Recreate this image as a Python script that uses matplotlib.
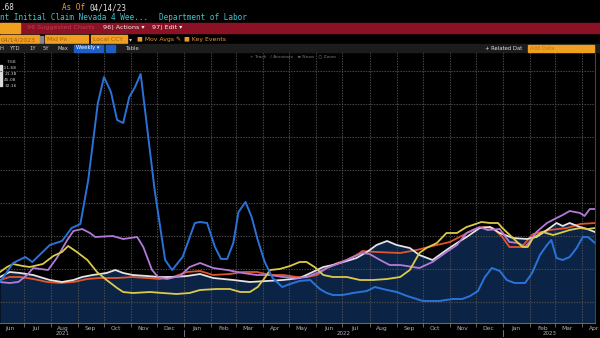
import numpy as np
import pandas as pd
import matplotlib
matplotlib.use("Agg")
import matplotlib.pyplot as plt
import matplotlib.dates as mdates
from matplotlib.patches import Rectangle

# series: day offsets from 2021-06-04, value in chart units
start = pd.Timestamp("2021-06-04")

blue_days = [0, 15, 29, 37, 57, 71, 82, 92, 101, 112, 119, 127, 134, 141, 148, 154, 161, 177, 189, 197,
             209, 223, 229, 237, 246, 253, 260, 267, 273, 281, 288, 295, 303, 312, 323, 332, 343, 355,
             366, 374, 381, 392, 404, 420, 429, 443, 454, 466, 484, 503, 518, 529, 538, 547, 555, 563,
             572, 580, 589, 601, 609, 618, 626, 631, 637, 644, 652, 660, 667, 673, 681]
blue_vals = [41, 60, 66, 61, 78, 82, 95, 99, 143, 220, 246, 231, 203, 200, 226, 235, 249, 133, 63, 53,
             66, 100, 101, 100, 76, 64, 64, 80, 111, 121, 106, 83, 61, 45, 36, 39, 42, 43,
             34, 30, 28, 28, 30, 32, 36, 33, 31, 27, 22, 22, 24, 24, 27, 32, 46, 55,
             52, 43, 40, 40, 50, 68, 78, 83, 65, 63, 66, 75, 86, 86, 80]

white_days = [0, 11, 23, 38, 57, 71, 84, 94, 106, 122, 132, 141, 152, 168, 183, 198, 214, 229, 244, 267,
              286, 305, 324, 343, 358, 370, 381, 397, 408, 420, 431, 443, 454, 469, 480, 495, 511, 523,
              534, 549, 561, 572, 587, 603, 614, 626, 637, 644, 652, 664, 672, 681]
white_vals = [46, 51, 50, 48, 43, 41, 43, 46, 48, 50, 53, 50, 48, 47, 46, 46, 47, 49, 45, 43,
              41, 42, 43, 45, 51, 56, 58, 62, 65, 71, 78, 82, 78, 75, 68, 63, 73, 80,
              86, 95, 96, 90, 85, 84, 86, 93, 100, 97, 100, 96, 94, 91]

orange_days = [0, 11, 23, 38, 54, 69, 84, 100, 114, 134, 152, 168, 183, 198, 214, 229, 244, 263, 278, 294,
               309, 324, 340, 351, 363, 374, 386, 397, 408, 415, 431, 458, 477, 495, 515, 526, 541, 553,
               564, 575, 583, 597, 610, 629, 649, 664, 681]
orange_vals = [43, 46, 46, 44, 41, 40, 41, 44, 45, 45, 46, 45, 44, 46, 51, 52, 48, 49, 51, 51,
               48, 48, 46, 46, 48, 55, 60, 63, 68, 72, 71, 70, 73, 77, 81, 86, 93, 96,
               95, 86, 76, 76, 89, 93, 95, 99, 100]

purple_days = [0, 11, 21, 31, 38, 55, 65, 77, 84, 94, 103, 109, 129, 141, 157, 164, 174, 181, 191, 206,
               217, 229, 244, 260, 278, 294, 309, 324, 340, 351, 363, 374, 389, 404, 415, 423, 435, 446,
               458, 480, 495, 511, 523, 534, 549, 558, 572, 583, 593, 601, 606, 614, 626, 637, 644, 652,
               664, 669, 675, 681]
purple_vals = [41, 40, 41, 48, 55, 53, 65, 83, 92, 94, 90, 86, 87, 84, 86, 76, 53, 46, 44, 47,
               56, 60, 55, 53, 50, 48, 48, 46, 45, 46, 50, 55, 60, 66, 70, 69, 63, 58,
               58, 55, 61, 71, 78, 90, 96, 93, 94, 81, 80, 76, 81, 91, 100, 105, 108, 112,
               110, 107, 114, 114]

yellow_days = [0, 8, 15, 26, 34, 49, 61, 71, 78, 88, 100, 111, 122, 134, 141, 152, 172, 186, 202, 217,
               229, 248, 263, 275, 286, 295, 303, 309, 320, 332, 343, 351, 360, 370, 381, 397, 412, 427,
               443, 458, 469, 480, 488, 500, 511, 523, 534, 541, 551, 561, 570, 575, 587, 598, 604, 610,
               621, 633, 641, 652, 664, 673, 681]
yellow_vals = [51, 56, 59, 57, 56, 59, 67, 71, 77, 71, 63, 51, 43, 35, 31, 30, 31, 30, 29, 30,
               33, 34, 34, 31, 31, 36, 45, 53, 54, 57, 61, 61, 56, 48, 46, 46, 43, 43,
               44, 46, 53, 70, 75, 80, 90, 90, 96, 98, 101, 100, 100, 95, 85, 76, 76, 85,
               91, 88, 90, 93, 95, 94, 95]

legend_vals = ["7.68", "-11.68", "21.38", "45.08", "32.16"]
year_labels = ["2021", "2022", "2023"]
year_label_dates = ["2021-08-15", "2022-07-02", "2023-02-23"]
year_breaks = ["2022-01-01", "2023-01-01"]

W, H = 600, 338
fig = plt.figure(figsize=(6, 3.38), dpi=100, facecolor="black")


def box(x0, y0, x1, y1, color):
    fig.patches.append(Rectangle((x0 / W, 1 - y1 / H), (x1 - x0) / W, (y1 - y0) / H,
                                 transform=fig.transFigure, color=color, zorder=0))


def txt(x, y, s, color, size=5, family="DejaVu Sans", **kw):
    fig.text(x / W, 1 - y / H, s, color=color, fontsize=size, family=family,
             va="center", ha="left", **kw)


# header rows
mono = "DejaVu Sans Mono"
txt(0, 8, ".68", "#e6e6e6", 5.5, mono)
txt(62, 8, "As Of", "#f0a030", 5.5, mono)
txt(89, 8, "04/14/23", "#e6e6e6", 5.5, mono)
txt(0, 18, "nt Initial Claim Nevada 4 Wee...", "#3fc4d0", 5.5, mono)
txt(159, 18, "Department of Labor", "#3fc4d0", 5.5, mono)

box(0, 23, W, 33, "#8a1224")
box(0, 23, 20, 33, "#f0a020")
txt(27, 28, "96 Suggested Charts", "#b8404e", 4.6)
txt(103, 28, "96) Actions \u25be", "#f2f2f2", 4.6)
txt(152, 28, "97) Edit \u25be", "#f2f2f2", 4.6)

box(0, 35, 39, 44, "#f0a020")
txt(1, 39.5, "04/14/2023", "#9a5a10", 4.4)
box(40, 36, 43, 43, "#888888")
box(45, 35, 88, 44, "#f0a020")
txt(47, 39.5, "Mid Px", "#a86010", 4.4)
box(91, 35, 127, 44, "#f0a020")
txt(93, 39.5, "Local CCY", "#a86010", 4.4)
txt(129, 39.5, "\u25be", "#bbbbbb", 4.4)
txt(137, 39.5, "\u25a0 Mov Avgs \u270e", "#e89a30", 4.4)
txt(184, 39.5, "\u25a0 Key Events", "#e89a30", 4.4)

box(0, 44, W, 52, "#1c1c1c")
for label, xx in zip(["H", "YTD", "1Y", "5Y", "Max"], [0, 10, 29, 43, 58]):
    txt(xx, 48, label, "#cfcfcf", 3.8)
box(74, 44.5, 103, 51.5, "#1d5fc4")
txt(76, 48, "Weekly \u25be", "#ffffff", 3.8)
box(106, 44.5, 115, 51.5, "#1d5fc4")
txt(126, 48, "Table", "#cfcfcf", 3.8)
txt(485, 48, "+ Related Dat", "#e0e0e0", 3.8)
box(528, 44.5, 594, 51.5, "#f0a020")
txt(530, 48, "Add Data", "#c07818", 3.8)

# plot area
ax = fig.add_axes([0, (H - 323) / H, 595 / W, (323 - 51) / H])
ax.set_facecolor("black")
ax.set_axisbelow(False)

def to_dates(days):
    return start + pd.to_timedelta(days, unit="D")

ax.fill_between(to_dates(white_days), white_vals, 0, color="#0b2445", lw=0, zorder=1)
ax.plot(to_dates(orange_days), orange_vals, color="#e0552c", lw=1.3, zorder=3)
ax.plot(to_dates(white_days), white_vals, color="#e4e4e4", lw=1.3, zorder=3)
ax.plot(to_dates(purple_days), purple_vals, color="#b47ad9", lw=1.3, zorder=3)
ax.plot(to_dates(yellow_days), yellow_vals, color="#ddc94a", lw=1.3, zorder=3)
ax.plot(to_dates(blue_days), blue_vals, color="#2a72d8", lw=1.4, zorder=4)

ax.set_xlim(pd.Timestamp("2021-06-04"), pd.Timestamp("2023-04-16"))
ax.set_ylim(0, 272)
ax.set_yticks(np.arange(21, 272, 33))
ax.tick_params(axis="y", left=False, labelleft=False)

ax.xaxis.set_major_locator(mdates.MonthLocator(bymonthday=15))
ax.xaxis.set_major_formatter(mdates.DateFormatter("%b"))
ax.xaxis.set_minor_locator(mdates.MonthLocator())
ax.tick_params(axis="x", which="major", length=0, pad=2, labelsize=4.3, colors="#b0b0b0")
ax.tick_params(axis="x", which="minor", length=3, width=0.6, color="#777777")
ax.grid(which="minor", axis="x", color="#4c4c4c", lw=0.8, ls=(0, (1.2, 1.2)))
ax.grid(which="major", axis="y", color="#4c4c4c", lw=0.8, ls=(0, (1.2, 1.2)))

for side in ["top", "left"]:
    ax.spines[side].set_visible(False)
ax.spines["bottom"].set_color("#666666")
ax.spines["right"].set_color("#444444")
ax.spines["bottom"].set_linewidth(0.8)

xt = ax.get_xaxis_transform()
for lbl, d in zip(year_labels, year_label_dates):
    ax.text(pd.Timestamp(d), -0.04, lbl, transform=xt, color="#b0b0b0", fontsize=4.0,
            ha="center", va="center")
for d in year_breaks:
    ax.plot([pd.Timestamp(d)] * 2, [-0.025, -0.048], transform=xt, color="#888888",
            lw=0.6, clip_on=False)

# small value legend and toolbar inside the plot
for i, v in enumerate(legend_vals):
    ax.text(0.028, 0.958 - i * 0.022, v, transform=ax.transAxes, color="#c8c8c8",
            fontsize=3.2, ha="right", va="center")
ax.add_patch(Rectangle((0.0, 0.87), 0.003, 0.08, transform=ax.transAxes, color="#dddddd"))
ax.text(0.42, 0.982, "+ Track   \u2215 Annotate   \u2261 News   \u25cb Zoom",
        transform=ax.transAxes, color="#777777", fontsize=3.2, va="center")

fig.savefig("out.png", dpi=100, facecolor="black")
